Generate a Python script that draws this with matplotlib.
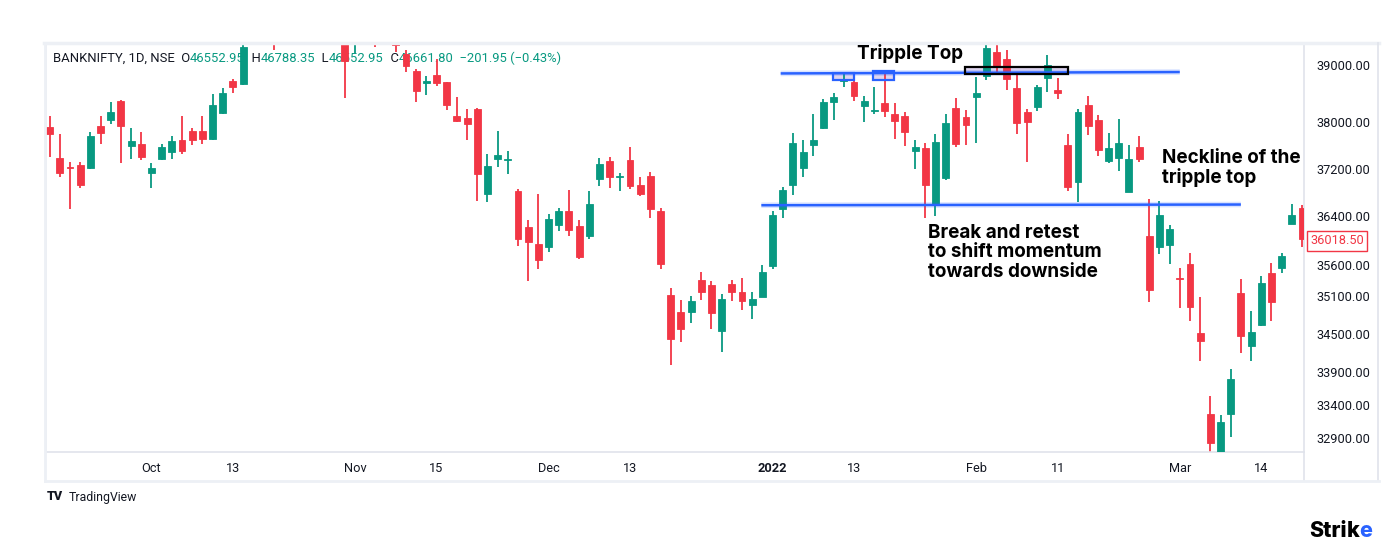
import numpy as np
import matplotlib
matplotlib.use("Agg")
import matplotlib.pyplot as plt
from matplotlib.patches import Rectangle
from matplotlib.lines import Line2D
from matplotlib.ticker import FixedLocator, FormatStrFormatter, NullLocator

# daily candles, BANKNIFTY 17 Sep 2021 .. 21 Mar 2022
opens = [37920, 37374, 37225, 37260, 37217, 37937, 38040, 38362, 37587, 37615,
         37120, 37357, 37484, 37697, 37838, 37838, 37704, 38155, 38720, 38660,
         39450, 39900, 39700, 39600, 40400, 41000, 41100, 40600, 39900, 39800,
         39450, 39800, 39700, 39500, 39600, 39200, 38895, 38685, 38827, 38700,
         38104, 38070, 38224, 36770, 37370, 37350, 36820, 36224, 35950, 35893,
         36260, 36480, 36240, 36070, 37016, 37322, 37060, 37340, 36916, 37083,
         36484, 35117, 34848, 34848, 35350, 35284, 34548, 35300, 35167, 34958,
         35085, 35583, 36517, 36916, 37217, 37600, 37895, 38345, 38720, 38700,
         38276, 38190, 38328, 38138, 38104, 37496, 37548, 36584, 37033, 38241,
         38087, 38431, 38810, 39235, 39110, 38586, 38172, 38259, 38776, 38552,
         37596, 36972, 38293, 38034, 37327, 37380, 36800, 37560, 36080, 35893,
         35925, 35395, 35624, 34510, 33266, 32660, 33255, 35150, 34315, 34647,
         35467, 35560, 36272, 36530]
highs = [38110, 37790, 37310, 37310, 37820, 38100, 38345, 38375, 37895, 37826,
         37288, 37615, 37765, 38104, 37895, 38104, 38483, 38600, 38759, 39360,
         39800, 40100, 39900, 40500, 41100, 41800, 41300, 40800, 40000, 40000,
         39900, 40000, 39900, 39800, 39700, 39260, 38925, 38810, 39100, 38700,
         38443, 38224, 38241, 37444, 37838, 37496, 36849, 36336, 36767, 36434,
         36545, 36834, 36336, 36817, 37374, 37392, 37133, 37570, 37066, 37150,
         36534, 35234, 35037, 35100, 35483, 35334, 35134, 35350, 35383, 35167,
         35600, 36484, 36883, 37808, 37687, 38138, 38397, 38500, 38840, 38713,
         38448, 38604, 38867, 38328, 38172, 37687, 37635, 37791, 38138, 38414,
         38207, 38793, 39380, 39450, 39270, 38827, 38224, 38638, 39180, 38776,
         37791, 38224, 38448, 38121, 37805, 38052, 37596, 37765, 36695, 36660,
         36250, 35560, 35803, 35080, 33543, 33245, 33947, 35367, 34864, 35428,
         35640, 35803, 36600, 36584]
lows = [37395, 37050, 36517, 36865, 37200, 37625, 37970, 37300, 37357, 37340,
        36865, 37345, 37357, 37444, 37600, 37625, 37687, 38138, 38500, 38650,
        39400, 39400, 39270, 39500, 40300, 40800, 40500, 39700, 39360, 38415,
        39210, 39450, 39320, 39420, 39230, 38867, 38350, 38465, 38620, 38212,
        37995, 37687, 36656, 36640, 37225, 37105, 35910, 35340, 35540, 35813,
        36165, 36070, 35695, 36020, 36905, 36870, 36820, 36849, 36740, 36368,
        35540, 34015, 34374, 34674, 35037, 34579, 34215, 35021, 34880, 34737,
        35085, 35534, 36368, 36750, 37050, 37409, 37883, 38034, 38604, 38362,
        38000, 38138, 38087, 37704, 37583, 37200, 36368, 36400, 37000, 37565,
        37600, 37635, 38741, 38845, 38552, 37791, 37305, 38190, 38517, 38397,
        36820, 36640, 37770, 37415, 37293, 37155, 36800, 37310, 35000, 35780,
        35620, 34906, 34710, 34078, 32675, 32550, 32920, 34200, 34078, 34621,
        34710, 35478, 36272, 35900]
closes = [37790, 37120, 37210, 36920, 37765, 37810, 38172, 37930, 37680, 37397,
          37217, 37565, 37680, 37496, 37690, 37704, 38288, 38512, 38610, 39320,
          39720, 39500, 39500, 40400, 41000, 41100, 40600, 39800, 39500, 39075,
          39800, 39600, 39370, 39650, 39350, 38990, 38540, 38725, 38680, 38300,
          38024, 37960, 37105, 37252, 37427, 37362, 36020, 35973, 35685, 36352,
          36495, 36180, 35728, 36600, 37270, 37050, 37080, 36905, 36767, 36517,
          35616, 34421, 34579, 35021, 35167, 34832, 35053, 35167, 35021, 35053,
          35483, 36416, 36834, 37635, 37478, 37687, 38345, 38431, 38736, 38455,
          38362, 38207, 38190, 38017, 37826, 37565, 36916, 37652, 37983, 37618,
          37948, 38500, 39310, 38966, 38759, 37983, 38000, 38604, 39000, 38500,
          36890, 38172, 37930, 37520, 37548, 37635, 37357, 37357, 35205, 36416,
          36187, 35372, 34932, 34394, 32830, 33138, 33797, 34460, 34527, 35317,
          35000, 35755, 36416, 36018.50]

price_ticks = [32900, 33400, 33900, 34500, 35100, 35600, 36400, 37200, 38000, 39000]
date_tick_idx = [10, 18, 30, 38, 49, 57, 71, 79, 91, 99, 111, 119]
date_tick_labels = ["Oct", "13", "Nov", "15", "Dec", "13", "2022", "13", "Feb", "11", "Mar", "14"]

last_price = 36018.50
header = [("BANKNIFTY, 1D, NSE  O", "dark"), ("46552.95", "val"), ("  H", "dark"),
          ("46788.35", "val"), ("  L", "dark"), ("46552.95", "val"), ("  C", "dark"),
          ("46661.80", "val"), ("  \u2212201.95 (\u22120.43%)", "val")]

UP = "#089981"
DOWN = "#f23645"
TXT = "#131722"
BORDER = "#e0e3eb"
BLUE = "#2962ff"
W, H = 1388, 553

plt.rcParams['font.family'] = ['Roboto', 'DejaVu Sans']

fig = plt.figure(figsize=(W / 100, H / 100), dpi=100)
fig.patch.set_facecolor("white")
ax = fig.add_axes([46 / W, 1 - 452 / H, (1304 - 46) / W, (452 - 44) / H])

o = np.array(opens, dtype=float)
h = np.array(highs, dtype=float)
l = np.array(lows, dtype=float)
c = np.array(closes, dtype=float)
x = np.arange(len(o))
col = np.where(c >= o, UP, DOWN)

ax.vlines(x, l, h, colors=col, linewidth=1.3, zorder=2)
ax.bar(x, np.maximum(np.abs(c - o), 8), bottom=np.minimum(o, c), width=0.68,
       color=col, edgecolor=col, linewidth=0.6, zorder=3)

ax.set_yscale("log")
ax.set_xlim(-0.36, 123.2)
ax.set_ylim(32691, 39375)
ax.yaxis.set_major_locator(FixedLocator(price_ticks))
ax.yaxis.set_minor_locator(NullLocator())
ax.yaxis.set_major_formatter(FormatStrFormatter("%.2f"))
ax.yaxis.tick_right()
ax.tick_params(axis="y", length=0, pad=9, labelsize=9.2, labelcolor=TXT)
ax.set_xticks(date_tick_idx)
ax.set_xticklabels(date_tick_labels)
ax.tick_params(axis="x", length=0, pad=7, labelsize=9.2, labelcolor=TXT)
for lab in ax.get_xticklabels():
    if lab.get_text() == "2022":
        lab.set_fontweight("bold")
for s in ax.spines.values():
    s.set_color(BORDER)
    s.set_linewidth(1.2)

# outer frame of the TradingView widget
def fline(x0, y0, x1, y1, lw=1.2, color=BORDER):
    fig.add_artist(Line2D([x0 / W, x1 / W], [1 - y0 / H, 1 - y1 / H], color=color, lw=lw))

fline(44, 43, 1379, 43, lw=2.5, color="#edf0f5")
fline(45, 43, 45, 481, lw=2, color="#edf0f5")
fline(1304, 452, 1304, 481)
fline(1378, 43, 1378, 481)
fline(45, 481, 1379, 481, lw=2, color="#edf0f5")

# resistance and neckline
for (xa, ya, xb, yb) in [(71.8, 38850, 111.0, 38875), (69.9, 36584, 117.0, 36596)]:
    ax.plot([xa, xb], [ya, yb], color=BLUE, lw=4, alpha=0.18, zorder=4, solid_capstyle="butt")
    ax.plot([xa, xb], [ya, yb], color=BLUE, lw=1.8, zorder=5, solid_capstyle="butt")

# top boxes
for (xa, xb, ya, yb, ec) in [(76.9, 79.0, 38736, 38850, BLUE), (80.9, 82.9, 38736, 38902, BLUE),
                             (89.9, 100.0, 38845, 38966, "black")]:
    ax.add_patch(Rectangle((xa, ya), xb - xa, yb - ya, facecolor="#9575cd", alpha=0.3,
                           edgecolor="none", zorder=1))
    ax.add_patch(Rectangle((xa, ya), xb - xa, yb - ya, facecolor="none",
                           edgecolor=ec, lw=1.6, zorder=6))

ann = dict(fontsize=13.6, fontweight="bold", color="black", ha="left", va="top",
           family=["Inter", "DejaVu Sans"], linespacing=1.1)
fig.text(857 / W, 1 - 44 / H, "Tripple Top", **ann)
fig.text(1162 / W, 1 - 149 / H, "Neckline of the\ntripple top", **ann)
fig.text(928 / W, 1 - 224 / H, "Break and retest\nto shift momentum\ntowards downside", **ann)

# header line, drawn under the candles
renderer = fig.canvas.get_renderer()
hx = 53
for s, kind in header:
    t = ax.text(hx / W, 1 - 58 / H, s, transform=fig.transFigure, fontsize=9.35,
                color=TXT if kind == "dark" else UP, ha="left", va="center", zorder=0.5)
    hx += t.get_window_extent(renderer).width

# last price label
fig.text(1310 / W, 1 - 241 / H, f"{last_price:.2f}", fontsize=9.2, color=DOWN, ha="left",
         va="center", bbox=dict(boxstyle="square,pad=0.25", facecolor="white", edgecolor=DOWN, lw=1))

# logos
fig.text(47 / W, 1 - 497 / H, "TV", fontsize=9, fontweight="heavy", color=TXT, ha="left", va="center")
fig.text(69 / W, 1 - 497 / H, "TradingView", fontsize=8.8, color=TXT, ha="left", va="center")
logo = dict(fontsize=15.5, fontweight="heavy", ha="left", va="center", family=["Inter", "DejaVu Sans"])
t = fig.text(1309 / W, 1 - 531 / H, "Stri", color="black", **logo)
sx = 1309 + t.get_window_extent(renderer).width
t = fig.text(sx / W, 1 - 531 / H, "k", color="black", **logo)
sx += t.get_window_extent(renderer).width
fig.text(sx / W, 1 - 531 / H, "e", color=BLUE, **logo)

fig.savefig("out.png", dpi=100, facecolor="white")
